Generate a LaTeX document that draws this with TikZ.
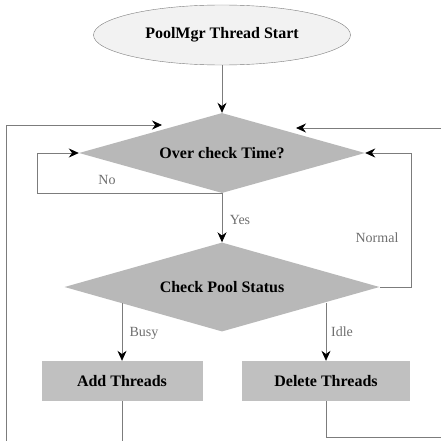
\documentclass[tikz,border=0pt]{standalone}
\usepackage{fontspec}
\setmainfont{Liberation Serif}
\usetikzlibrary{arrows.meta, shapes.geometric}
\definecolor{linegray}{HTML}{7C7C7C}
\definecolor{decfill}{HTML}{B8B8B8}
\definecolor{boxfill}{HTML}{C0C0C0}
\definecolor{startfill}{HTML}{F2F2F2}
\definecolor{lblgray}{HTML}{6E6E6E}
\tikzset{
  startnode/.style={ellipse, draw=linegray, fill=startfill, inner sep=0pt,
              minimum width=257pt, minimum height=60pt,
              font=\fontsize{16}{18}\selectfont\bfseries},
  decide/.style={diamond, fill=decfill, inner sep=0pt, shape aspect=3.55,
              font=\fontsize{16}{18}\selectfont\bfseries},
  work/.style={rectangle, fill=boxfill, minimum height=40pt, inner sep=0pt,
              font=\fontsize{16}{18}\selectfont\bfseries},
  lbl/.style={text=lblgray, inner sep=0pt, font=\fontsize{14}{16}\selectfont},
  link/.style={draw=linegray, line width=0.8pt},
  flow/.style={link, -{Stealth[length=10pt, width=9pt, color=black]}},
}

\begin{document}
\begin{tikzpicture}[x=1pt, y=-1pt]
  \useasboundingbox (0,0) rectangle (441,441);
  \node[startnode] (start) at (222,35) {PoolMgr Thread Start};
  \node[decide, minimum width=286pt, minimum height=80pt] (chk) at (222,153) {Over check Time?};
  \node[decide, minimum width=315pt, minimum height=89pt] (pool) at (222,287) {Check Pool Status};
  \node[work, minimum width=161pt] (add) at (122,381) {Add Threads};
  \node[work, minimum width=168pt] (del) at (326,381) {Delete Threads};
  \coordinate (busyfrom) at (122,303);
  \coordinate (idlefrom) at (326,303);
  \coordinate (addout) at (122,441);
  \coordinate (delout) at (441,437);
  \coordinate (leftbot) at (6,441);
  \coordinate (lefttip) at (162,125);
  \coordinate (rightin) at (441,128);
  \coordinate (righttip) at (296,128);
  \draw[flow] (start) -- (chk);
  \draw[flow] (chk.south) -- ++(-185,0) |- (chk.west);
  \draw[flow] (chk) -- (pool);
  \draw[flow] (pool.east) -- ++(32,0) |- (chk.east);
  \draw[flow] (busyfrom) -- (add);
  \draw[flow] (idlefrom) -- (del);
  \draw[link] (add) -- (addout);
  \draw[link] (del) |- (delout);
  \draw[flow] (leftbot) |- (lefttip);
  \draw[flow] (rightin) -- (righttip);
  \node[lbl] (no) at (107,180) {No};
  \node[lbl] (yes) at (240,220) {Yes};
  \node[lbl] (normal) at (377,238) {Normal};
  \node[lbl] (busy) at (144,333) {Busy};
  \node[lbl] (idle) at (342,332) {Idle};
\end{tikzpicture}
\end{document}
